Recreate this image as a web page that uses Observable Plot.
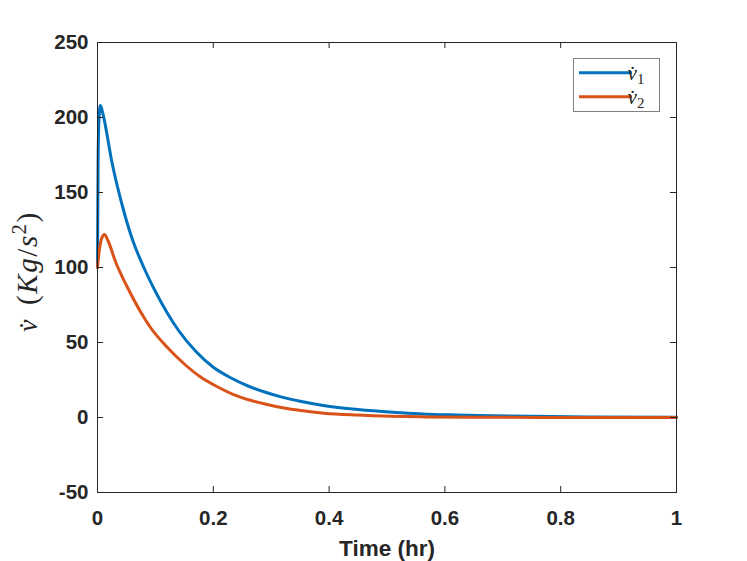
<!DOCTYPE html>
<html><head><meta charset="utf-8">
<script src="https://cdn.jsdelivr.net/npm/d3@7"></script>
<script src="https://cdn.jsdelivr.net/npm/@observablehq/plot@0.6"></script>
<style>body{margin:0;background:#fff} #chart{width:747px;height:561px}</style>
</head><body><div id="chart"></div>
<script>
// Series 1 (v̇1)
const t1 = [0, 0.001, 0.0025, 0.005, 0.009, 0.025, 0.043, 0.06, 0.08, 0.1, 0.12, 0.14, 0.17, 0.2, 0.23, 0.26, 0.29, 0.32, 0.35, 0.39, 0.45, 0.51, 0.56, 0.62, 0.68, 0.75, 0.85, 1];
const v1 = [100, 170, 198, 208, 203, 170, 141, 119, 100, 84, 70, 58, 44, 33.5, 26.5, 21, 16.8, 13.4, 10.8, 8, 5.3, 3.5, 2.4, 1.7, 1.2, 0.8, 0.4, 0.15];
// Series 2 (v̇2)
const t2 = [0, 0.002, 0.005, 0.009, 0.012, 0.018, 0.031, 0.054, 0.083, 0.0915, 0.12, 0.149, 0.178, 0.207, 0.235, 0.264, 0.293, 0.322, 0.351, 0.391, 0.449, 0.506, 0.564, 0.65, 0.8, 1];
const v2 = [100, 108, 116, 121, 122, 118, 104, 85, 65, 60, 47, 36, 27, 20.5, 15.3, 11.5, 8.7, 6.4, 4.7, 2.9, 1.6, 0.8, 0.4, 0.15, 0.05, 0];

const xTicks = [0, 0.2, 0.4, 0.6, 0.8, 1];
const yTicks = [-50, 0, 50, 100, 150, 200, 250];
const seriesSub = ["1", "2"];
const colors = ["#0072BD", "#D95319"];
const xLabel = "Time (hr)";

const d1 = t1.map((t, i) => ({t, v: v1[i]}));
const d2 = t2.map((t, i) => ({t, v: v2[i]}));
const axisColor = "#262626";

const svg = Plot.plot({
  width: 747, height: 561,
  marginLeft: 97, marginRight: 71, marginTop: 42, marginBottom: 69,
  x: {domain: [0, 1]},
  y: {domain: [-50, 250]},
  style: {fontFamily: "'Liberation Sans', Arial, sans-serif", fontSize: "20.5px", fontWeight: "bold", color: axisColor, background: "#fff"},
  marks: [
    Plot.line(d1, {x: "t", y: "v", stroke: colors[0], strokeWidth: 3, curve: "monotone-x"}),
    Plot.line(d2, {x: "t", y: "v", stroke: colors[1], strokeWidth: 3, curve: "monotone-x"}),
    Plot.frame({stroke: axisColor}),
    Plot.ruleX(xTicks, {x: d => d, y1: -50, y2: -46, stroke: axisColor}),
    Plot.ruleX(xTicks, {x: d => d, y1: 250, y2: 246, stroke: axisColor}),
    Plot.ruleY(yTicks, {y: d => d, x1: 0, x2: 0.0104, stroke: axisColor}),
    Plot.ruleY(yTicks, {y: d => d, x1: 1, x2: 0.9896, stroke: axisColor}),
    Plot.axisX({ticks: xTicks, tickSize: 0, tickPadding: 18, tickFormat: d => String(d), label: null, fill: axisColor}),
    Plot.axisY({ticks: yTicks, tickSize: 0, tickPadding: 9, tickFormat: d => String(d), label: null, fill: axisColor}),
    Plot.text([xLabel], {text: d => d, frameAnchor: "bottom", dy: 56, fontSize: 22.5, fontWeight: "bold", fill: axisColor, lineAnchor: "middle"})
  ]
});
document.getElementById("chart").appendChild(svg);

const s = d3.select(svg);
const serif = "'Liberation Serif', 'Times New Roman', serif";
// Y label: v̇ part
s.append("text")
  .attr("transform", "translate(37,332) rotate(-90)")
  .attr("text-anchor", "start")
  .attr("fill", axisColor)
  .style("font-family", serif).style("font-size", "28px").style("font-weight", "normal").style("font-style", "italic")
  .text("v\u0307");
// Y label: unit part
const yl = s.append("text")
  .attr("transform", "translate(37,305) rotate(-90)")
  .attr("text-anchor", "start")
  .attr("fill", axisColor)
  .style("font-family", serif).style("font-size", "29px").style("font-weight", "normal")
  .style("letter-spacing", "1.6px");
yl.append("tspan").text("(");
yl.append("tspan").style("font-style", "italic").text("Kg");
yl.append("tspan").text("/");
yl.append("tspan").style("font-style", "italic").text("s");
yl.append("tspan").attr("dy", -11).style("font-size", "20px").text("2");
yl.append("tspan").attr("dy", 11).text(")");

// Legend
const lg = s.append("g");
lg.append("rect").attr("x", 573.5).attr("y", 58.5).attr("width", 86).attr("height", 53)
  .attr("fill", "#fff").attr("stroke", "#808080").attr("stroke-width", 1);
seriesSub.forEach((sub, i) => {
  const yy = 72.7 + i * 24;
  lg.append("line").attr("x1", 579).attr("x2", 632).attr("y1", yy).attr("y2", yy)
    .attr("stroke", colors[i]).attr("stroke-width", 3);
  const tx = lg.append("text").attr("x", 636).attr("y", yy + 7.3).attr("fill", axisColor)
    .style("font-family", serif)
    .style("font-size", "21px").style("font-weight", "normal");
  tx.append("tspan").style("font-style", "italic").text("v\u0307");
  tx.append("tspan").attr("dy", 4).style("font-size", "15px").text(sub);
});
</script>
</body></html>
